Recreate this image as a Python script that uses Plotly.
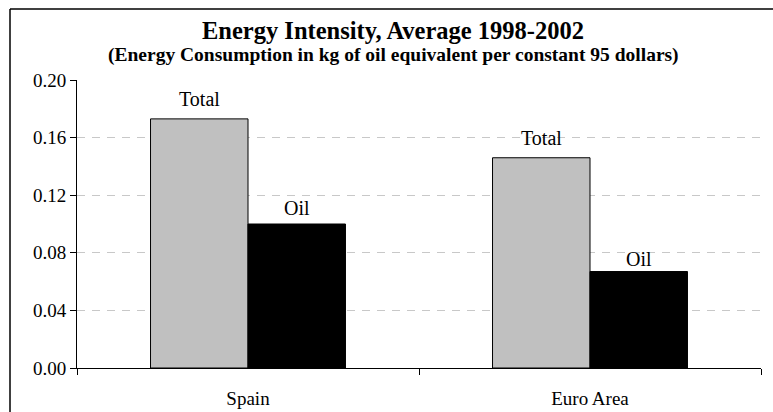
import plotly.graph_objects as go

# Energy intensity, average 1998-2002 (kg of oil equivalent per constant 95 dollars)
regions = ["Spain", "Euro Area"]
total_intensity = [0.173, 0.146]
oil_intensity = [0.100, 0.067]
series_names = ["Total", "Oil"]
y_ticks = [0.00, 0.04, 0.08, 0.12, 0.16, 0.20]
y_tick_text = ["0.00", "0.04", "0.08", "0.12", "0.16", "0.20"]

W, H = 773, 412
M_L, M_R, M_T, M_B = 77, 12, 80, 44
BARGAP = 0.43
FONT = "Liberation Serif, Times New Roman, serif"

fig = go.Figure()
fig.add_trace(go.Bar(
    name=series_names[0], x=regions, y=total_intensity,
    marker=dict(color="#c0c0c0", line=dict(color="#000000", width=1)),
))
fig.add_trace(go.Bar(
    name=series_names[1], x=regions, y=oil_intensity,
    marker=dict(color="#000000", line=dict(color="#000000", width=1)),
))

# series-name labels above each bar (pixel lift per series, per region)
bar_w = (1 - BARGAP) / 2
label_lift = {"Total": [7, 7], "Oil": [3, 0]}
for k, (name, vals) in enumerate(zip(series_names, [total_intensity, oil_intensity])):
    offset = (k - 0.5) * bar_w
    for i, v in enumerate(vals):
        fig.add_annotation(
            x=i + offset, y=v, xref="x", yref="y", text=name,
            showarrow=False, yanchor="bottom", yshift=label_lift[name][i],
            font=dict(family=FONT, size=20, color="#000000"),
        )

plot_w = W - M_L - M_R
plot_h = H - M_T - M_B


def px_to_paper(px, py):
    return (px - M_L) / plot_w, (H - M_B - py) / plot_h


# subtitle
sx, sy = px_to_paper(393, 55)
fig.add_annotation(
    x=sx, y=sy, xref="paper", yref="paper", showarrow=False,
    text="<b>(Energy Consumption in kg of oil equivalent per constant 95 dollars)</b>",
    font=dict(family=FONT, size=19.5, color="#000000"),
    xanchor="center", yanchor="middle",
)

# chart-area frame (top and left edges)
fx0, fy0 = px_to_paper(10, 9)
fx1, fy1 = px_to_paper(W + 5, H + 5)
fig.add_shape(type="line", xref="paper", yref="paper",
              x0=fx0, y0=fy0, x1=fx1, y1=fy0, line=dict(color="#000000", width=1.5))
fig.add_shape(type="line", xref="paper", yref="paper",
              x0=fx0, y0=fy0, x1=fx0, y1=fy1, line=dict(color="#000000", width=1.5))

fig.update_layout(
    width=W, height=H,
    margin=dict(l=M_L, r=M_R, t=M_T, b=M_B),
    paper_bgcolor="#ffffff", plot_bgcolor="#ffffff",
    barmode="group", bargap=BARGAP, bargroupgap=0,
    showlegend=False,
    font=dict(family=FONT, size=19, color="#000000"),
    title=dict(
        text="<b>Energy Intensity, Average 1998-2002</b>",
        font=dict(family=FONT, size=24.5, color="#000000"),
        x=393 / W, xanchor="center", y=1 - 30 / H, yanchor="middle",
        xref="container", yref="container",
    ),
    xaxis=dict(
        showline=True, linecolor="#000000", linewidth=1,
        ticks="outside", tickson="boundaries", ticklen=6, tickcolor="#000000",
        ticklabelstandoff=13, showgrid=False, zeroline=False, automargin=False,
        tickfont=dict(family=FONT, size=19, color="#000000"),
    ),
    yaxis=dict(
        range=[0, 0.2], tickvals=y_ticks, ticktext=y_tick_text,
        showline=True, linecolor="#000000", linewidth=1,
        ticks="outside", ticklen=6, tickcolor="#000000",
        showgrid=True, gridcolor="#c8c8c8", gridwidth=1, griddash="8px,7px",
        zeroline=False, automargin=False,
        tickfont=dict(family=FONT, size=19, color="#000000"),
    ),
)

fig.write_html("out.html")
